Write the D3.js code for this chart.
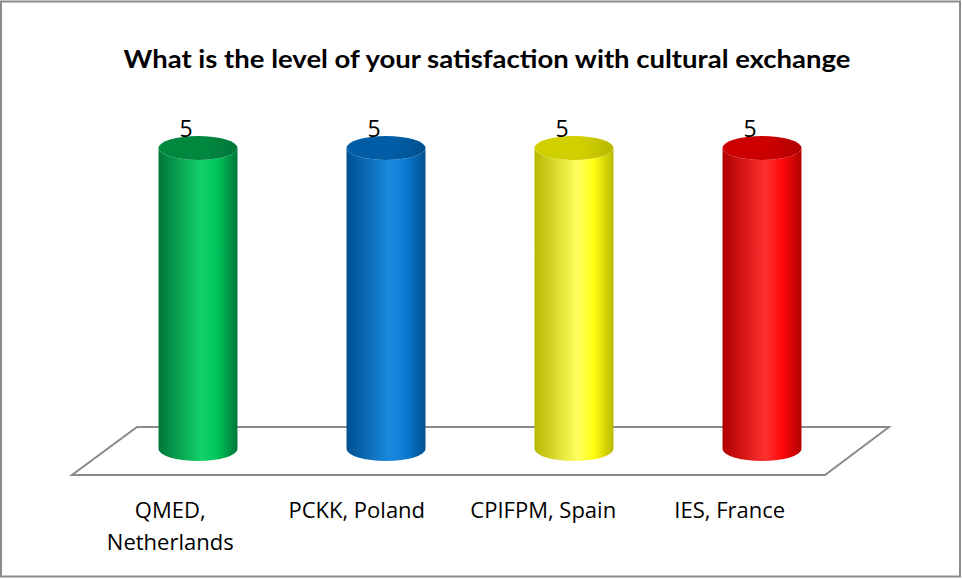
<!DOCTYPE html>
<html><head><meta charset="utf-8">
<script src="https://cdn.jsdelivr.net/npm/d3@7"></script>
<style>body{margin:0;background:#fff}svg{display:block}</style>
</head><body>
<script>
const categories = [["QMED,", "Netherlands"], ["PCKK, Poland"], ["CPIFPM, Spain"], ["IES, France"]];
const values = [5, 5, 5, 5];
const title = "What is the level of your satisfaction with cultural exchange";
const colors = [
  {dark:"#00763a", mid:"#00c45a", light:"#12d36a", top:"#00883f"},
  {dark:"#00508f", mid:"#0a7bd0", light:"#1a8ae0", top:"#005da6"},
  {dark:"#b8b800", mid:"#ffff10", light:"#ffff60", top:"#d0d000"},
  {dark:"#b00000", mid:"#ff0a0a", light:"#ff3030", top:"#cc0000"}
];

const W = 962, H = 579;
const svg = d3.select("body").append("svg").attr("width", W).attr("height", H);
svg.append("rect").attr("x",1).attr("y",1.5).attr("width",W-3).attr("height",H-4)
  .attr("fill","#fff").attr("stroke","#8c8c8c").attr("stroke-width",2);

svg.append("text").attr("x", 487).attr("y", 68).attr("text-anchor","middle")
  .attr("font-family","Lato, 'Open Sans', sans-serif").attr("font-weight","bold")
  .attr("font-size", 24).attr("textLength", 727).attr("lengthAdjust","spacingAndGlyphs")
  .attr("fill","#000").text(title);

// floor
const floor = [[137,427],[889,427],[825,475],[72,475]];
svg.append("polygon").attr("points", floor.map(p=>p.join(",")).join(" "))
  .attr("fill","#fff").attr("stroke","#8a8a8a").attr("stroke-width",2);

const x = d3.scaleBand().domain(d3.range(categories.length)).range([104, 856]).paddingInner(0.58).paddingOuter(0.29);
const y = d3.scaleLinear().domain([0,5]).range([449,148]);
const xl = d3.scaleBand().domain(d3.range(categories.length)).range([77, 823]);

const defs = svg.append("defs");
colors.forEach((c,i)=>{
  const g = defs.append("linearGradient").attr("id","side"+i).attr("x1","0").attr("x2","1").attr("y1","0").attr("y2","0");
  g.append("stop").attr("offset","0%").attr("stop-color",c.dark);
  g.append("stop").attr("offset","55%").attr("stop-color",c.light);
  g.append("stop").attr("offset","75%").attr("stop-color",c.mid);
  g.append("stop").attr("offset","100%").attr("stop-color",c.dark);
  const t = defs.append("linearGradient").attr("id","top"+i).attr("x1","0").attr("x2","1").attr("y1","0").attr("y2","0");
  t.append("stop").attr("offset","0%").attr("stop-color",c.top);
  t.append("stop").attr("offset","60%").attr("stop-color",c.top);
  t.append("stop").attr("offset","100%").attr("stop-color",c.dark);
});

const ry = 12;
const bars = svg.append("g").selectAll("g").data(values).join("g");
bars.append("path").attr("fill",(d,i)=>`url(#side${i})`).attr("d",(d,i)=>{
  const x0 = x(i), w = x.bandwidth(), rx = w/2, yt = y(d), yb = y(0);
  return `M${x0},${yt} L${x0},${yb} A${rx},${ry} 0 0 0 ${x0+w},${yb} L${x0+w},${yt} A${rx},${ry} 0 0 1 ${x0},${yt} Z`;
});
bars.append("ellipse").attr("fill",(d,i)=>`url(#top${i})`)
  .attr("cx",(d,i)=>x(i)+x.bandwidth()/2).attr("cy",d=>y(d)).attr("rx",x.bandwidth()/2).attr("ry",ry);
bars.append("text").attr("x",(d,i)=>x(i)+x.bandwidth()/2-12).attr("y",d=>y(d)-11)
  .attr("text-anchor","middle").attr("font-family","'Open Sans', sans-serif").attr("font-size",23)
  .attr("fill","#000").text(d=>d);

// category labels
categories.forEach((lines,i)=>{
  const t = svg.append("text").attr("text-anchor","middle")
    .attr("font-family","'Open Sans', sans-serif").attr("font-size",22).attr("fill","#000");
  lines.forEach((l,j)=>{
    t.append("tspan").attr("x", xl(i)+xl.bandwidth()/2).attr("y", 518 + j*32).text(l);
  });
});
</script>
</body></html>
